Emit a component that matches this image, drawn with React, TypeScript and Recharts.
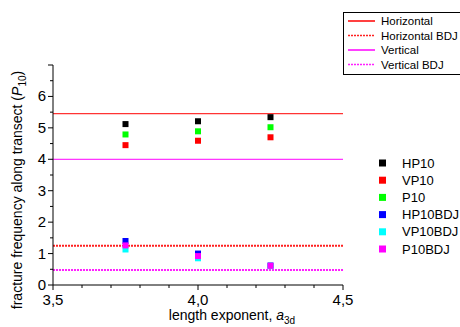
import React from 'react';
import { ScatterChart, Scatter, XAxis, YAxis, ReferenceLine } from 'recharts';

const exponents = [3.75, 4.0, 4.25];
const hp10 = [5.12, 5.21, 5.34];
const vp10 = [4.45, 4.59, 4.7];
const p10 = [4.79, 4.89, 5.02];
const hp10Bdj = [1.4, 1.0, 0.62];
const vp10Bdj = [1.13, 0.85, 0.6];
const p10Bdj = [1.26, 0.92, 0.61];

const xTicks = [3.5, 3.6, 3.7, 3.8, 3.9, 4.0, 4.1, 4.2, 4.3, 4.4, 4.5];
const xLabels = ['3,5', '4,0', '4,5'];
const yTicks = [0, 0.5, 1, 1.5, 2, 2.5, 3, 3.5, 4, 4.5, 5, 5.5, 6, 6.5, 7];
const yLabels = ['0', '1', '2', '3', '4', '5', '6'];

const refLines = [
  { name: 'Horizontal', value: 5.45, color: '#ff0000', dotted: false },
  { name: 'Horizontal BDJ', value: 1.25, color: '#ff2020', dotted: true },
  { name: 'Vertical', value: 4.0, color: '#ff00ff', dotted: false },
  { name: 'Vertical BDJ', value: 0.48, color: '#ff20ff', dotted: true },
];

const series = [
  { name: 'HP10', values: hp10, color: '#000000' },
  { name: 'VP10', values: vp10, color: '#ff0000' },
  { name: 'P10', values: p10, color: '#00ff00' },
  { name: 'HP10BDJ', values: hp10Bdj, color: '#0000ff' },
  { name: 'VP10BDJ', values: vp10Bdj, color: '#00ffff' },
  { name: 'P10BDJ', values: p10Bdj, color: '#ff00ff' },
];

const FONT = '"Liberation Sans", Arial, sans-serif';

const XTick = (props: any) => {
  const { x, y, payload } = props;
  const v = payload.value;
  const major = Math.abs(v * 2 - Math.round(v * 2)) < 1e-6;
  const label = major ? xLabels[Math.round((v - 3.5) * 2)] : null;
  return (
    <g>
      <line x1={x} x2={x} y1={y} y2={y + (major ? 5 : 3)} stroke="#000" />
      {label && (
        <text x={x} y={y + 20} textAnchor="middle" fontSize={15} fontFamily={FONT} fill="#000">
          {label}
        </text>
      )}
    </g>
  );
};

const YTick = (props: any) => {
  const { x, y, payload } = props;
  const v = payload.value;
  const major = Number.isInteger(v);
  const label = major ? yLabels[v] : null;
  return (
    <g>
      <line x1={x} x2={x - (major ? 5 : 3)} y1={y} y2={y} stroke="#000" />
      {label && (
        <text x={x - 7} y={y + 5} textAnchor="end" fontSize={15} fontFamily={FONT} fill="#000">
          {label}
        </text>
      )}
    </g>
  );
};

const square = (color: string) => (props: any) => (
  <rect x={props.cx - 3} y={props.cy - 3} width={6} height={6} fill={color} />
);

export default function App() {
  return (
    <div style={{ position: 'absolute', left: 0, top: 0, width: 460, height: 327, background: '#fff' }}>
      <ScatterChart width={460} height={327} margin={{ top: 65, right: 117, bottom: 12, left: 0 }}>
        <XAxis
          type="number"
          dataKey="x"
          domain={[3.5, 4.5]}
          ticks={xTicks}
          interval={0}
          tickSize={0}
          tickMargin={0}
          tickLine={false}
          tick={<XTick />}
          height={30}
          stroke="#000"
          allowDataOverflow
        />
        <YAxis
          type="number"
          dataKey="y"
          domain={[0, 7]}
          ticks={yTicks}
          interval={0}
          tickSize={0}
          tickMargin={0}
          tickLine={false}
          tick={<YTick />}
          width={53}
          stroke="#000"
          allowDataOverflow
        />
        {refLines.map((r) => (
          <ReferenceLine
            key={r.name}
            y={r.value}
            stroke={r.color}
            strokeDasharray={r.dotted ? '2 1' : undefined}
            strokeWidth={r.dotted ? 2 : 1}
          />
        ))}
        {series.map((s) => (
          <Scatter
            key={s.name}
            name={s.name}
            data={exponents.map((x, i) => ({ x, y: s.values[i] }))}
            fill={s.color}
            shape={square(s.color)}
            isAnimationActive={false}
          />
        ))}
      </ScatterChart>

      <svg width={460} height={327} style={{ position: 'absolute', left: 0, top: 0, pointerEvents: 'none' }}>
        <text
          transform="translate(22,190) rotate(-90)"
          textAnchor="middle"
          fontSize={14}
          fontFamily={FONT}
          fill="#000"
        >
          fracture frequency along transect (<tspan fontStyle="italic">P</tspan>
          <tspan fontSize={10} dy={4}>10</tspan>
          <tspan dy={-4}>)</tspan>
        </text>
        <text x={232} y={320} textAnchor="middle" fontSize={14} fontFamily={FONT} fill="#000">
          length exponent, <tspan fontStyle="italic">a</tspan>
          <tspan fontSize={10} dy={4}>3d</tspan>
        </text>

        <rect x={343.5} y={12.5} width={130} height={62} fill="#fff" stroke="#000" />
        {refLines.map((r, i) => (
          <g key={r.name}>
            <line
              x1={348}
              x2={375}
              y1={21 + i * 14.5}
              y2={21 + i * 14.5}
              stroke={r.color}
              strokeDasharray={r.dotted ? '2 1' : undefined}
              strokeWidth={1.5}
            />
            <text x={381} y={25 + i * 14.5} fontSize={11.5} fontFamily={FONT} fill="#000">
              {r.name}
            </text>
          </g>
        ))}

        {series.map((s, i) => (
          <g key={s.name}>
            <rect x={379} y={159.5 + i * 17.2} width={7} height={7} fill={s.color} />
            <text x={402} y={167.5 + i * 17.2} fontSize={13} fontFamily={FONT} fill="#000">
              {s.name}
            </text>
          </g>
        ))}
      </svg>
    </div>
  );
}
